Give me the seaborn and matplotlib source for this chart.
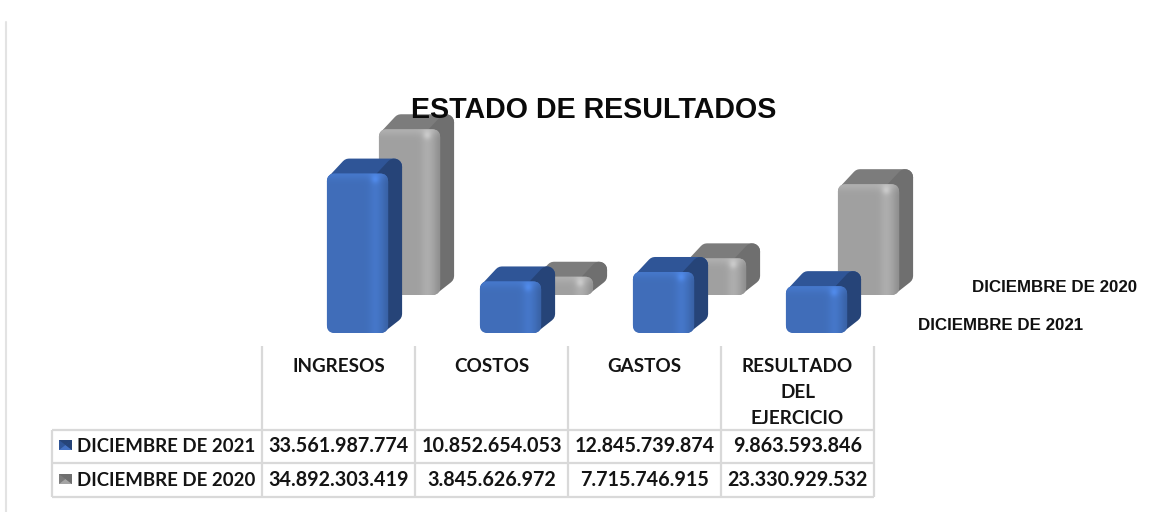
"""
Estado de resultados: barras pseudo 3D con tabla de datos debajo.
"""

import numpy as np
import matplotlib
matplotlib.use('Agg')
import matplotlib.pyplot as plt
from matplotlib.patches import FancyBboxPatch, Polygon, Rectangle
from matplotlib.transforms import IdentityTransform
from matplotlib.colors import to_rgb
import seaborn as sns

categorias = ['INGRESOS', 'COSTOS', 'GASTOS', 'RESULTADO\nDEL\nEJERCICIO']
dic_2021 = [33561987774, 10852654053, 12845739874, 9863593846]
dic_2020 = [34892303419, 3845626972, 7715746915, 23330929532]
serie_2021 = 'DICIEMBRE DE 2021'
serie_2020 = 'DICIEMBRE DE 2020'

W, H = 1162, 512
PX_POR_VALOR = 4.75e-9
DX, DY = 14, 15


def fig_rect(left, base_px, width, height):
    # rect de figura a partir de pixeles con origen arriba a la izquierda
    return [left / W, (H - base_px) / H, width / W, height / H]


def cara_frontal(w, h, color):
    # sombreado suave del frente: bisel superior y franja clara a la derecha
    base = np.array(to_rgb(color))
    xx, yy = np.meshgrid(np.arange(w), np.arange(h))
    img = 0.97 + 0.08 * np.exp(-((xx - (w - 14)) / 6.0) ** 2)
    img = img - 0.10 * np.exp(-((xx - (w - 1)) / 5.0) ** 2)
    img = img + 0.09 * np.exp(-(yy / 6.0) ** 2)
    # brillo en la esquina
    d = np.hypot(xx - (w - 14), yy - 6)
    img = img + 0.14 * np.exp(-(d / 4.0) ** 2)
    return np.clip(img[..., None] * base, 0, 1)


def barra_3d(ax, patch, frente, lado, arriba):
    # convierte la barra de seaborn en un bloque con profundidad
    bb = patch.get_window_extent()
    x0, y0, x1, y1 = bb.x0, bb.y0, bb.x1, bb.y1
    patch.set_visible(False)
    t = IdentityTransform()
    r = 8
    tapa = [(x0 + r, y1 - r), (x0 + DX + r, y1 + DY - r),
            (x1 + DX - r, y1 + DY - r), (x1 - r, y1 - r)]
    costado = [(x1 - r, y0 + r), (x1 + DX - r, y0 + DY + r - 4),
               (x1 + DX - r, y1 + DY - r), (x1 - r, y1 - r)]
    for pts, c in ((tapa, arriba), (costado, lado)):
        ax.add_patch(Polygon(pts, closed=True, fc=c, ec=c, lw=r * 2 * 0.72,
                             joinstyle='round', transform=t, clip_on=False))
    rad = 8
    caja = FancyBboxPatch((x0 + rad, y0 + rad), x1 - x0 - 2 * rad, y1 - y0 - 2 * rad,
                          boxstyle=f'round,pad={rad},rounding_size={rad}', fc=frente,
                          ec='none', transform=t, clip_on=False)
    ax.add_patch(caja)
    img = cara_frontal(int(x1 - x0), int(y1 - y0), frente)
    im = ax.imshow(img, extent=(x0, x1, y0, y1), transform=t, aspect='auto',
                   origin='upper', interpolation='bilinear', zorder=3)
    im.set_clip_box(None)
    im.set_clip_path(caja)


def panel(left, base_px, valores, color, lado, arriba, zorder):
    ymax = 45e9
    ax = fig.add_axes(fig_rect(left, base_px, 612, ymax * PX_POR_VALOR))
    sns.barplot(x=[c.split('\n')[0] for c in categorias], y=valores, color=color,
                width=0.4, saturation=1, ax=ax)
    ax.set_xlim(-0.5, 3.5)
    ax.set_ylim(0, ymax)
    ax.set_autoscale_on(False)
    ax.axis('off')
    ax.set_zorder(zorder)
    for p in list(ax.patches):
        barra_3d(ax, p, color, lado, arriba)
    return ax


def fmt(v):
    return f'{v:,}'.replace(',', '.')


def clave(ax, x, y, claro, oscuro, medio):
    # cuadradito de la leyenda, sombreado como piramide
    w, h = 13, 10
    cx, cy = x + w / 2, y + h / 2
    ax.add_patch(Rectangle((x, y), w, h, fc=medio, ec='none'))
    ax.add_patch(Polygon([(x, y), (x + w, y), (cx, cy)], fc=oscuro, ec='none'))
    ax.add_patch(Polygon([(x, y + h), (x + w, y + h), (cx, cy)], fc=claro, ec='none'))
    ax.add_patch(Polygon([(x + w, y), (x + w, y + h), (cx, cy)], fc=oscuro, ec='none'))


sns.set_theme(style='white')
plt.rcParams['font.family'] = ['Liberation Sans', 'DejaVu Sans']

fig = plt.figure(figsize=(W / 100, H / 100), dpi=100, facecolor='white')
fig.canvas.draw()

panel(281 + 52, 295, dic_2020, '#a5a5a5', '#6f6f6f', '#7c7c7c', 1)
panel(281, 333, dic_2021, '#4271bf', '#264478', '#2f5597', 2)

# capa en pixeles para titulo, tabla y rotulos
capa = fig.add_axes([0, 0, 1, 1])
capa.set_xlim(0, W)
capa.set_ylim(H, 0)
capa.axis('off')
capa.patch.set_alpha(0)
capa.set_zorder(3)

capa.plot([6, 6], [22, H], color='#e3e3e3', lw=1.5)
capa.text(594, 110, 'ESTADO DE RESULTADOS', ha='center', va='center',
          fontsize=20.6, fontweight='bold', color='#0a0a0a')
capa.text(1137, 288, serie_2020, ha='right', va='center', fontsize=12.2,
          fontweight='bold', color='#111111')
capa.text(1083, 326, serie_2021, ha='right', va='center', fontsize=12.2,
          fontweight='bold', color='#111111')

linea = dict(color='#d9d9d9', lw=1.6, solid_capstyle='butt')
cols = [262, 415, 568, 721, 874]
for x in cols:
    capa.plot([x, x], [346, 497], **linea)
capa.plot([52, 52], [430, 497], **linea)
for y in (430, 463, 497):
    capa.plot([52, 874], [y, y], **linea)

fuente = dict(family=['Lato', 'DejaVu Sans'], fontweight='bold', color='#141414')
for i, cat in enumerate(categorias):
    cx = (cols[i] + cols[i + 1]) / 2
    for j, parte in enumerate(cat.split('\n')):
        capa.text(cx, 367 + j * 26, parte, ha='center', va='center', fontsize=13.6, **fuente)
    capa.text(cx, 446, fmt(dic_2021[i]), ha='center', va='center', fontsize=14.2, **fuente)
    capa.text(cx, 480, fmt(dic_2020[i]), ha='center', va='center', fontsize=14.2, **fuente)

capa.text(77, 446, serie_2021, ha='left', va='center', fontsize=13.4, **fuente)
capa.text(77, 480, serie_2020, ha='left', va='center', fontsize=13.4, **fuente)
clave(capa, 59, 440, '#4472c4', '#264478', '#2f5597')
clave(capa, 59, 474, '#a5a5a5', '#6f6f6f', '#7c7c7c')

fig.savefig('out.png', dpi=100)
plt.close(fig)
